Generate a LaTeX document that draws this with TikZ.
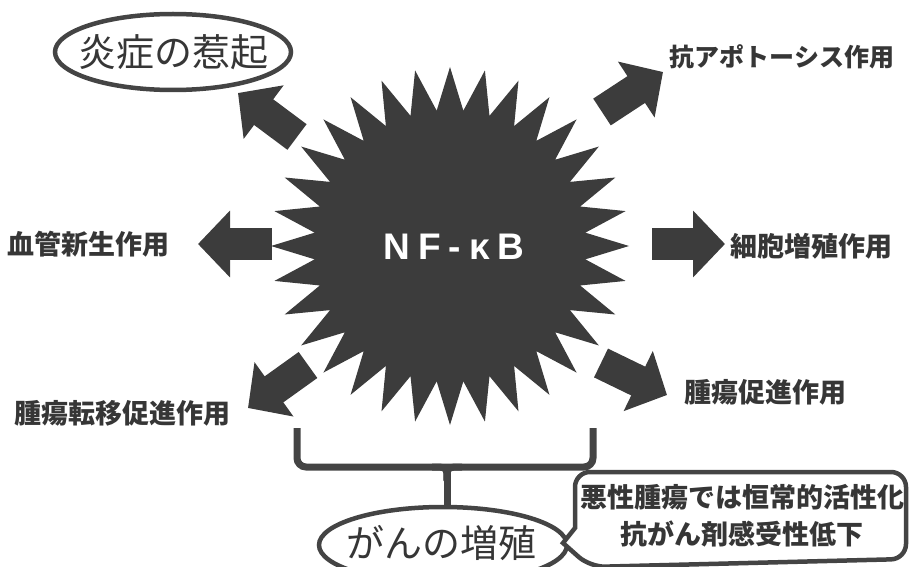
\documentclass[tikz,border=0pt]{standalone}
\usepackage{fontspec}
\newfontfamily\jp{Noto Sans CJK JP}
\newfontfamily\lat{Liberation Sans}
\usetikzlibrary{arrows.meta,shapes.geometric}
\definecolor{ink}{HTML}{3C3C3C}
\definecolor{txt}{HTML}{363636}
\definecolor{line}{HTML}{444444}
\begin{document}
\begin{tikzpicture}[x=1pt,y=-1pt,
  blockarrow/.style={draw=ink, line width=32pt, -{Triangle[width=65pt,length=32pt]}},
  lab/.style={text=txt, font=\jp\bfseries\fontsize{27}{27}\selectfont, inner sep=0pt},
  ovl/.style={draw=line, line width=4.5pt, ellipse, inner sep=0pt},
  ovltext/.style={text=txt, font=\jp\fontsize{38}{38}\selectfont, inner sep=0pt},
  brk/.style={draw=line, line width=7pt},
  bub/.style={draw=line, line width=4.5pt, fill=white, rounded corners=15pt}
]
\useasboundingbox (0,0) rectangle (910,567);

% starburst
\fill[ink] plot[variable=\t, samples at={0,1,...,63}]
  ({450+(157.5+21.5*cos(\t*180))*sin(\t*5.625)},
   {246-(157.5+21.5*cos(\t*180))*cos(\t*5.625)}) -- cycle;
\node[text=white, font=\lat\bfseries\fontsize{37}{37}\selectfont, inner sep=0pt] (nf) at (454,247)
  {N\hspace{8pt}F\hspace{8pt}-\hspace{8pt}κ\hspace{8pt}B};

% arrow coordinates
\coordinate (ulA) at (297,137); \coordinate (ulB) at (238,93);
\coordinate (urA) at (602,112); \coordinate (urB) at (663,72);
\coordinate (lA) at (272,244);  \coordinate (lB) at (198,244);
\coordinate (rA) at (652,244);  \coordinate (rB) at (725,244);
\coordinate (llA) at (308,365); \coordinate (llB) at (248,408);
\coordinate (lrA) at (601,363); \coordinate (lrB) at (667,395);
\draw[blockarrow] (ulA) -- (ulB);
\draw[blockarrow] (urA) -- (urB);
\draw[blockarrow] (lA) -- (lB);
\draw[blockarrow] (rA) -- (rB);
\draw[blockarrow] (llA) -- (llB);
\draw[blockarrow] (lrA) -- (lrB);

% labels
\node[ovl, minimum width=236pt, minimum height=76pt] (inflE) at (173,52) {};
\node[ovltext] (infl) at (inflE) {炎症の惹起};
\node[lab, font=\jp\bfseries\fontsize{25}{25}\selectfont] (apo) at (782,57) {抗アポトーシス作用};
\node[lab] (angio) at (89,244) {血管新生作用};
\node[lab] (prolif) at (811,246) {細胞増殖作用};
\node[lab] (tumor) at (765,392) {腫瘍促進作用};
\node[lab] (meta) at (122,413) {腫瘍転移促進作用};

% bracket
\draw[brk, rounded corners=9pt] (297,428) -- (297,467) -- (593,467) -- (593,428);
\node[ovl, minimum width=248pt, minimum height=76pt] (cancerE) at (443,545) {};
\coordinate (stemtop) at (447,467);
\coordinate (stemjoin) at (447,481);
\draw[brk] (stemtop) -- (cancerE.north -| stemtop);
\draw[brk] (432,467) .. controls (447,467) .. (stemjoin);
\draw[brk] (462,467) .. controls (447,467) .. (stemjoin);
\node[ovltext] (cancer) at (441,543) {がんの増殖};

% callout
\draw[bub] (575,528) -- (575,472) -- (906,472) -- (906,559) -- (590,567)
  [rounded corners=0pt] -- (563,543) -- cycle;
\node[lab, align=center, font=\jp\bfseries\fontsize{27}{37}\selectfont] (note) at (742,516)
  {悪性腫瘍では恒常的活性化\\抗がん剤感受性低下};
\end{tikzpicture}
\end{document}
